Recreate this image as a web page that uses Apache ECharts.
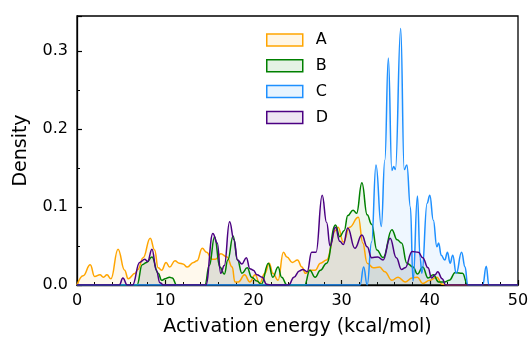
<!DOCTYPE html>
<html>
<head>
<meta charset="utf-8">
<script src="https://cdn.jsdelivr.net/npm/echarts@6/dist/echarts.min.js"></script>
<style>
html,body{margin:0;padding:0;background:#fff}
#main{width:530px;height:339px}
</style>
</head>
<body>
<div id="main"></div>
<script>
// density curves, [energy, density]
var seriesNames = ['A', 'B', 'C', 'D'];
var seriesColors = ['#FFA500', '#008000', '#1E90FF', '#4B0082'];
var seriesFills = ['rgba(255,165,0,0.1)', 'rgba(0,128,0,0.1)', 'rgba(30,144,255,0.1)', 'rgba(75,0,130,0.1)'];

var curveA = [[0,0],[0.7,0.012],[1.5,0.026],[2.0,0.011],[2.6,0.013],[3.0,0.010],[3.4,0.013],[3.85,0.008],[4.65,0.046],[5.4,0.019],[5.8,0.008],[6.6,0.015],[6.9,0.02],[7.5,0.035],[8.3,0.060],[8.8,0.045],[9.2,0.022],[9.6,0.019],[10.1,0.029],[10.5,0.023],[11.1,0.031],[11.6,0.028],[12.0,0.027],[12.5,0.023],[13.2,0.029],[13.6,0.031],[14.2,0.047],[14.7,0.042],[15.3,0.033],[15.7,0.033],[16.3,0.040],[17.0,0.036],[17.6,0.023],[17.9,0.004],[18.3,0.004],[19.0,0.013],[19.6,0.004],[20.2,0.013],[20.7,0.002],[21.3,0.015],[21.8,0.028],[22.2,0.015],[22.8,0.006],[23.4,0.042],[23.8,0.036],[24.4,0.029],[25.0,0.032],[25.5,0.023],[25.9,0.015],[26.4,0.019],[27.0,0.019],[27.6,0.028],[28.3,0.032],[29.3,0.070],[29.6,0.074],[30.2,0.055],[30.9,0.074],[31.9,0.087],[32.4,0.054],[32.9,0.028],[33.6,0.022],[34.3,0.023],[34.9,0.017],[35.7,0.006],[36.4,0.010],[37.2,0.004],[38.0,0.009],[38.6,0.010],[39.2,0.002],[40.0,0.006],[40.8,0.010],[41.4,0.001],[42,0],[50,0]];

var curveB = [[0,0],[6.8,0],[7.4,0.026],[7.9,0.029],[8.5,0.036],[9.2,0.015],[9.6,0.006],[10.0,0.008],[10.5,0.010],[10.8,0.009],[11.3,0],[14.5,0],[15.0,0.025],[15.6,0.062],[16.2,0.023],[16.7,0.014],[17.1,0.032],[17.7,0.063],[18.2,0.032],[18.7,0.015],[19.3,0.022],[19.8,0.010],[20.4,0.005],[20.9,0.001],[21.7,0.028],[22.2,0.010],[22.8,0.023],[23.2,0.010],[23.8,0],[25.8,0],[26.4,0.019],[27.0,0.010],[27.6,0.019],[28.3,0.028],[29.3,0.077],[29.8,0.062],[30.3,0.070],[30.7,0.089],[31.3,0.096],[31.7,0.092],[32.3,0.131],[32.9,0.090],[33.4,0.078],[34.0,0.045],[34.7,0.035],[35.7,0.071],[36.3,0.058],[36.8,0.054],[37.4,0.028],[38.1,0.023],[38.6,0.014],[39.2,0.023],[39.8,0.009],[40.4,0.013],[41.0,0.004],[41.7,0.004],[42.2,0.006],[42.9,0.016],[43.7,0.015],[44.3,0],[50,0]];

var curveC = [[0,0],[32.1,0],[32.5,0.023],[32.9,0],[33.4,0.055],[33.9,0.154],[34.5,0.075],[34.9,0.160],[35.3,0.291],[35.7,0.147],[35.9,0.152],[36.1,0.148],[36.7,0.329],[37.1,0.148],[37.4,0.154],[37.8,0.100],[38.1,0.005],[38.6,0.114],[38.9,0.035],[39.1,0.015],[39.7,0.105],[40.0,0.115],[40.4,0.083],[40.8,0.049],[41.0,0.054],[41.3,0.038],[41.7,0.032],[42.0,0.042],[42.3,0.028],[42.6,0.038],[43.0,0.015],[43.6,0.042],[44.0,0.023],[44.3,0],[46.0,0],[46.4,0.024],[46.7,0],[50,0]];

var curveD = [[0,0],[4.8,0],[5.2,0.009],[5.7,0],[6.3,0],[7.1,0.029],[7.7,0.033],[8.0,0.030],[8.5,0.046],[9.0,0.019],[9.4,0.003],[9.8,0],[14.6,0],[15.4,0.066],[15.9,0.054],[16.3,0.015],[16.7,0.025],[17.3,0.081],[17.8,0.058],[18.2,0.032],[18.7,0.027],[19.2,0.035],[19.6,0.021],[20.0,0.019],[20.4,0.013],[21.0,0.010],[21.5,0.001],[22,0],[24.0,0],[24.6,0.010],[25.2,0.018],[25.6,0.020],[26.1,0.017],[26.6,0.042],[27.1,0.042],[27.8,0.115],[28.3,0.080],[28.7,0.050],[29.3,0.074],[29.8,0.056],[30.2,0.052],[30.7,0.073],[31.5,0.047],[32.3,0.064],[32.9,0.049],[33.4,0.035],[34.1,0.036],[34.7,0.032],[35.5,0.060],[36.2,0.035],[36.8,0.020],[37.2,0.022],[38.0,0.043],[38.7,0.042],[39.2,0.035],[39.8,0.022],[40.2,0.009],[40.6,0.013],[40.9,0.017],[41.4,0.008],[41.8,0],[50,0]];

var curves = [curveA, curveB, curveC, curveD];
var font = 'DejaVu Sans';

var chart = echarts.init(document.getElementById('main'), null, {renderer: 'canvas'});

var series = [];
var legendData = [];
for (var i = 0; i < curves.length; i++) {
    series.push({
        name: seriesNames[i],
        type: 'line',
        data: curves[i],
        smooth: 0.45,
        smoothMonotone: 'x',
        showSymbol: false,
        lineStyle: {color: seriesColors[i], width: 1.5},
        itemStyle: {color: seriesColors[i]},
        areaStyle: {color: seriesFills[i], origin: 'start'},
        animation: false
    });
    legendData.push({
        name: seriesNames[i],
        icon: 'rect',
        itemStyle: {color: seriesFills[i], borderColor: seriesColors[i], borderWidth: 1.5}
    });
}

var option = {
    animation: false,
    grid: {left: 77, right: 12, top: 16, bottom: 54, outerBoundsMode: 'none', containLabel: false,
        show: true, borderColor: '#000', borderWidth: 1.3, backgroundColor: 'transparent'},
    legend: {
        orient: 'vertical',
        left: 266,
        top: 32,
        itemWidth: 36,
        itemHeight: 12,
        itemGap: 9.8,
        padding: 0,
        data: legendData,
        textStyle: {fontFamily: font, fontSize: 16, color: '#000', padding: [0, 0, 0, 8]}
    },
    xAxis: {
        type: 'value',
        min: 0, max: 50, interval: 10,
        name: 'Activation energy (kcal/mol)',
        nameLocation: 'middle',
        nameGap: 33,
        nameTextStyle: {fontFamily: font, fontSize: 19, color: '#000'},
        axisLine: {show: true, lineStyle: {color: '#000', width: 1.3}},
        axisTick: {show: true, inside: true, length: 5, lineStyle: {color: '#000', width: 1.2}},
        minorTick: {show: true, splitNumber: 5, length: 3, lineStyle: {color: '#000', width: 1}},
        axisLabel: {fontFamily: font, fontSize: 16, color: '#000', margin: 8},
        splitLine: {show: false}
    },
    yAxis: {
        type: 'value',
        min: 0, max: 0.345, interval: 0.1,
        name: 'Density',
        nameLocation: 'middle',
        nameGap: 46,
        nameTextStyle: {fontFamily: font, fontSize: 19, color: '#000'},
        axisLine: {show: true, lineStyle: {color: '#000', width: 1.3}},
        axisTick: {show: true, inside: true, length: 5, lineStyle: {color: '#000', width: 1.2}},
        minorTick: {show: true, splitNumber: 2, length: 3, lineStyle: {color: '#000', width: 1}},
        axisLabel: {
            fontFamily: font, fontSize: 16, color: '#000', margin: 9,
            showMaxLabel: false,
            formatter: function (v) { return v.toFixed(1); }
        },
        splitLine: {show: false}
    },
    series: series
};
chart.setOption(option);
</script>
</body>
</html>
